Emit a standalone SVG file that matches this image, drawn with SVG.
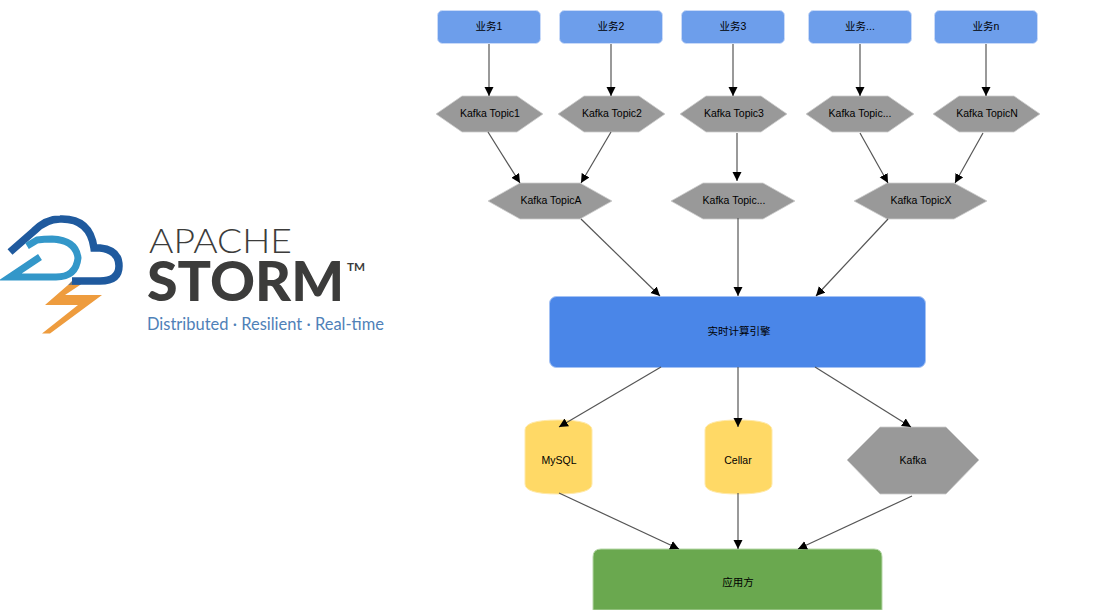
<svg xmlns="http://www.w3.org/2000/svg" width="1120" height="610" viewBox="0 0 1120 610">
<style>
text{font-family:"Liberation Sans",Arial,"Noto Sans CJK SC",sans-serif;font-size:10.5px;fill:#000;text-anchor:middle}
.biz{fill:#6d9eeb;stroke:#c9daf8;stroke-width:1}
.hex{fill:#999;stroke:#ccc;stroke-width:.8}
.db{fill:#ffd966;stroke:#ffe9a8;stroke-width:1}
.c{stroke:#555;stroke-width:1.2;fill:none;marker-end:url(#a)}
text.logo{font-family:Lato,"Open Sans",sans-serif;text-anchor:start;fill:#3c3c3b}
text.l1{font-size:34px;font-weight:300}
text.l2{font-size:56px;font-weight:900}
text.l3{font-size:12px;font-weight:700}
text.l4{font-size:17px;fill:#4f81b8}
</style>
<defs><marker id="a" markerUnits="userSpaceOnUse" markerWidth="10" markerHeight="10" refX="9" refY="4.500" orient="auto"><path d="M0 0L9 4.500L0 9Z" fill="#000"/></marker></defs>
<rect width="1120" height="610" fill="#fff"/>
<g id="logo">
<path d="M68 285L80 285L65 295H102L50 333.500H42L78 305H45Z" fill="#ee9c3e"/>
<path d="M68 285L75 278H89L80 285Z" fill="#7c7874"/>
<path d="M10 252L34 231Q46 219 60 219Q90 218 94 248H100Q119 250 119 266Q119 281 100 281H72" fill="none" stroke="#1f5a9e" stroke-width="7.500"/>
<path d="M27 246L37 240Q44 239 52 239Q76 240 78 258Q76 277 56 277H10L40 257" fill="none" stroke="#3397c9" stroke-width="7"/>
<text class="logo l1" x="149" y="253" textLength="143" lengthAdjust="spacingAndGlyphs">APACHE</text>
<text class="logo l2" x="147" y="301" textLength="197" lengthAdjust="spacingAndGlyphs">STORM</text>
<text class="logo l3" x="347" y="271" textLength="18" lengthAdjust="spacingAndGlyphs">TM</text>
<text class="logo l4" x="147" y="330" textLength="237" lengthAdjust="spacingAndGlyphs">Distributed · Resilient · Real-time</text>
</g>
<g id="biz1"><rect class="biz" x="437.500" y="10.500" width="103" height="33" rx="5"/><text x="489" y="30">业务1</text></g>
<g id="biz2"><rect class="biz" x="559.500" y="10.500" width="103" height="33" rx="5"/><text x="611" y="30">业务2</text></g>
<g id="biz3"><rect class="biz" x="681.500" y="10.500" width="103" height="33" rx="5"/><text x="733" y="30">业务3</text></g>
<g id="biz4"><rect class="biz" x="808.500" y="10.500" width="103" height="33" rx="5"/><text x="860" y="30">业务...</text></g>
<g id="bizn"><rect class="biz" x="934.500" y="10.500" width="103" height="33" rx="5"/><text x="986" y="30">业务n</text></g>
<g id="t1"><polygon class="hex" points="436,114 462,96 517,96 543,114 517,132 462,132"/><text x="490" y="117">Kafka Topic1</text></g>
<g id="t2"><polygon class="hex" points="558,114 584,96 639,96 665,114 639,132 584,132"/><text x="612" y="117">Kafka Topic2</text></g>
<g id="t3"><polygon class="hex" points="680,114 706,96 761,96 787,114 761,132 706,132"/><text x="734" y="117">Kafka Topic3</text></g>
<g id="t4"><polygon class="hex" points="806,114 832,96 888,96 914,114 888,132 832,132"/><text x="860" y="117">Kafka Topic...</text></g>
<g id="tn"><polygon class="hex" points="933,114 959,96 1014,96 1040,114 1014,132 959,132"/><text x="987" y="117">Kafka TopicN</text></g>
<g id="ta"><polygon class="hex" points="488,201 520,183 580,183 612,201 580,219 520,219"/><text x="551" y="204">Kafka TopicA</text></g>
<g id="tm"><polygon class="hex" points="671,201 703,183 763,183 795,201 763,219 703,219"/><text x="734" y="204">Kafka Topic...</text></g>
<g id="tx"><polygon class="hex" points="854,201 887,183 954,183 987,201 954,219 887,219"/><text x="921" y="204">Kafka TopicX</text></g>
<g id="engine"><rect x="549.500" y="296.500" width="376" height="71" rx="7" fill="#4a86e8" stroke="#a4c2f4"/><text x="739" y="335">实时计算引擎</text></g>
<g id="mysql"><path class="db" d="M525 430Q525 420 558 420Q592 420 592 430V484Q592 494 558 494Q525 494 525 484Z"/><text x="559" y="464">MySQL</text></g>
<g id="cellar"><path class="db" d="M705 430Q705 420 738 420Q772 420 772 430V484Q772 494 738 494Q705 494 705 484Z"/><text x="738" y="464">Cellar</text></g>
<g id="kafka"><polygon class="hex" points="847,460 880,427 946,427 979,460 946,494 880,494"/><text x="913" y="464">Kafka</text></g>
<g id="app"><path d="M593 610V557Q593 549 601 549H874Q882 549 882 557V610Z" fill="#6aa84f" stroke="#b6d7a8"/><text x="738" y="586">应用方</text></g>
<g id="connectors">
<path class="c" d="M489 44V96"/><path class="c" d="M611 44V96"/><path class="c" d="M733 44V96"/><path class="c" d="M860 44V96"/><path class="c" d="M986 44V96"/>
<path class="c" d="M488 132L520 183"/><path class="c" d="M611 132L581 183"/><path class="c" d="M737 133V181"/><path class="c" d="M860 133L888 183"/><path class="c" d="M983 133L955 183"/>
<path class="c" d="M581 219L660 296"/><path class="c" d="M738 218V296"/><path class="c" d="M888 219L816 296"/>
<path class="c" d="M661 367L559 427"/><path class="c" d="M738 367V427"/><path class="c" d="M815 367L911 427"/>
<path class="c" d="M559 493L679 549"/><path class="c" d="M738 493V549"/><path class="c" d="M912 496L798 549"/>
</g>
</svg>
